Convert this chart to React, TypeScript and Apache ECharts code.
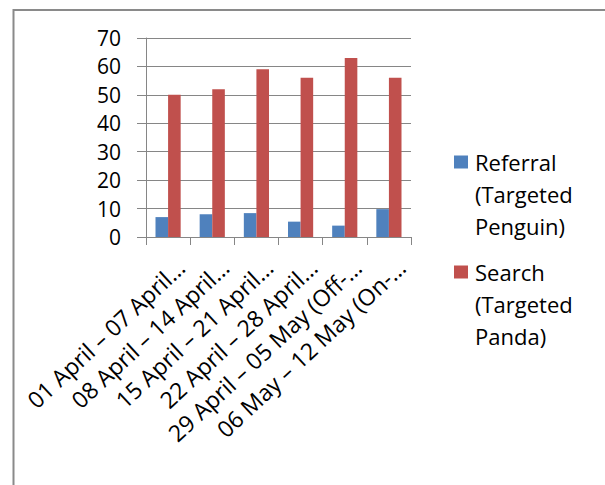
import React, { useEffect, useRef } from 'react';
import * as echarts from 'echarts';

const categories = [
  '01 April – 07 April…',
  '08 April – 14 April…',
  '15 April – 21 April…',
  '22 April – 28 April…',
  '29 April – 05 May (Off-…',
  '06 May – 12 May (On-…',
];
const referralValues = [7, 8, 8.4, 5.4, 4, 9.8];
const searchValues = [50, 52, 59, 56, 63, 56];
const seriesNames = ['Referral (Targeted Penguin)', 'Search (Targeted Panda)'];
const seriesColors = ['#4F81BD', '#C0504D'];
const yMin = 0;
const yMax = 70;
const yStep = 10;

const FONT = '"Open Sans", Lato, sans-serif';
const GRAY = '#868686';

export default function App() {
  const ref = useRef<HTMLDivElement>(null);
  useEffect(() => {
    if (!ref.current) return;
    const chart = echarts.init(ref.current, undefined, { renderer: 'svg' });
    const legendCommon = {
      orient: 'vertical',
      padding: 0,
      itemWidth: 14,
      itemHeight: 13,
      itemGap: 0,
      icon: 'rect',
      formatter: (name: string) => '\n\n' + name.split(' ').join('\n'),
      textStyle: {
        fontFamily: FONT,
        fontSize: 22,
        color: '#000',
        lineHeight: 32,
        padding: [0, 0, 0, 2],
      },
    };
    chart.setOption({
      animation: false,
      backgroundColor: '#fff',
      textStyle: { fontFamily: FONT },
      graphic: [
        {
          type: 'rect',
          shape: { x: 13.5, y: 10, width: 700, height: 600 },
          style: { fill: 'none', stroke: '#8a8a8a', lineWidth: 2 },
          silent: true,
        },
      ],
      legend: [
        { ...legendCommon, data: [seriesNames[0]], left: 454, top: 162 - 80 },
        { ...legendCommon, data: [seriesNames[1]], left: 454, top: 272 - 80 },
      ],
      grid: { left: 146, right: 194, top: 38, bottom: 248, containLabel: false },
      xAxis: {
        type: 'category',
        data: categories,
        axisLine: { show: true, lineStyle: { color: GRAY, width: 1 } },
        axisTick: { show: true, length: 8, lineStyle: { color: GRAY } },
        axisLabel: {
          interval: 0,
          rotate: 43,
          fontFamily: FONT,
          fontSize: 23,
          color: '#000',
          margin: 13,
          verticalAlign: 'top',
          lineHeight: 37,
          hideOverlap: false,
        },
        splitLine: { show: false },
      },
      yAxis: {
        type: 'value',
        min: yMin,
        max: yMax,
        interval: yStep,
        axisLine: { show: true, lineStyle: { color: GRAY, width: 1 } },
        axisTick: { show: true, length: 9, lineStyle: { color: GRAY } },
        axisLabel: { fontFamily: FONT, fontSize: 21, color: '#000', margin: 25 },
        splitLine: { show: true, lineStyle: { color: GRAY, width: 1 } },
      },
      series: [
        {
          name: seriesNames[0],
          type: 'bar',
          data: referralValues,
          itemStyle: { color: seriesColors[0] },
          barGap: '0%',
          barCategoryGap: '43%',
        },
        {
          name: seriesNames[1],
          type: 'bar',
          data: searchValues,
          itemStyle: { color: seriesColors[1] },
          barGap: '0%',
          barCategoryGap: '43%',
        },
      ],
    });
    return () => chart.dispose();
  }, []);
  return (
    <div
      ref={ref}
      style={{ position: 'fixed', left: 0, top: 0, width: 605, height: 485, background: '#fff' }}
    />
  );
}
